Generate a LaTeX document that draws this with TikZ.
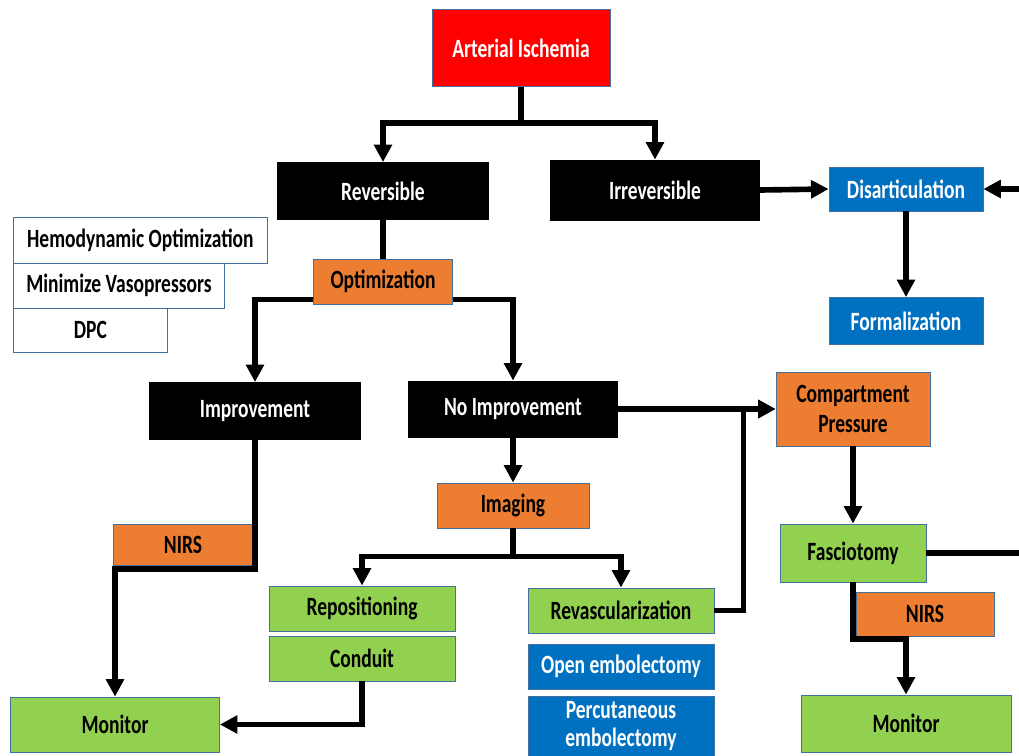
\documentclass[tikz,border=0pt]{standalone}
\usepackage{fontspec}
\setmainfont{Carlito}[FakeStretch=0.74]
\usetikzlibrary{arrows.meta}

\definecolor{ischred}{HTML}{FF0000}
\definecolor{optorange}{HTML}{ED7D31}
\definecolor{treatgreen}{HTML}{92D050}
\definecolor{ampblue}{HTML}{0070C0}
\definecolor{boxedge}{HTML}{41719C}

\begin{document}
\begin{tikzpicture}[x=0.02cm,y=-0.02cm,
  boxbase/.style={draw=boxedge,line width=0.5pt,inner sep=2pt,align=center,
    font=\bfseries\fontsize{15}{17.5}\selectfont},
  redbox/.style={boxbase,fill=ischred,text=white},
  blackbox/.style={boxbase,draw=black,fill=black,text=white},
  orangebox/.style={boxbase,fill=optorange},
  greenbox/.style={boxbase,fill=treatgreen},
  bluebox/.style={boxbase,fill=ampblue,text=white},
  whitebox/.style={boxbase,fill=white},
  arrowline/.style={line width=3.2pt,-{Triangle[width=10pt,length=10pt]}},
  plainline/.style={line width=3.2pt}]
\useasboundingbox (0,0) rectangle (1019,755);
% Top of the tree
\node[redbox,minimum width=3.56cm,minimum height=1.54cm] (art) at (521,48) {Arterial Ischemia};
\node[blackbox,minimum width=4.22cm,minimum height=1.14cm] (rev) at (383,191) {Reversible};
\node[blackbox,minimum width=4.18cm,minimum height=1.2cm] (irr) at (655,190) {Irreversible};
% Amputation side
\node[bluebox,minimum width=3.08cm,minimum height=0.88cm] (dis) at (906,189) {Disarticulation};
\node[bluebox,minimum width=3.08cm,minimum height=0.94cm] (form) at (906,321) {Formalization};
\coordinate (offdis) at (1025,189);
% Optimization measures
\node[whitebox,anchor=west,minimum width=5.08cm,minimum height=0.92cm] (hemo) at (13,240) {Hemodynamic Optimization};
\node[whitebox,anchor=west,minimum width=4.22cm,minimum height=0.9cm] (vaso) at (13,285.5) {Minimize Vasopressors};
\node[whitebox,anchor=west,minimum width=3.08cm,minimum height=0.88cm] (dpc) at (13,330) {DPC};
\node[orangebox,minimum width=2.78cm,minimum height=0.9cm] (opt) at (383,281.5) {Optimization};
% Response
\node[blackbox,minimum width=4.22cm,minimum height=1.14cm] (imp) at (255,411) {Improvement};
\node[blackbox,minimum width=4.18cm,minimum height=1.12cm] (noimp) at (513,409) {No Improvement};
\node[orangebox,minimum width=3.08cm,minimum height=1.48cm] (comp) at (853,409) {Compartment\\Pressure};
\node[orangebox,minimum width=3.04cm,minimum height=0.9cm] (imaging) at (513,505.5) {Imaging};
\node[orangebox,minimum width=2.78cm,minimum height=0.82cm] (nirsl) at (183,545) {NIRS};
% Treatment
\node[greenbox,minimum width=3.72cm,minimum height=0.9cm] (repo) at (362,608.5) {Repositioning};
\node[greenbox,minimum width=3.72cm,minimum height=0.9cm] (cond) at (362,658.5) {Conduit};
\node[greenbox,minimum width=3.72cm,minimum height=0.9cm] (revasc) at (621,610.5) {Revascularization};
\node[bluebox,minimum width=3.72cm,minimum height=0.9cm] (open) at (621,666.5) {Open embolectomy};
\node[bluebox,minimum width=3.72cm,minimum height=1.2cm,font=\bfseries\fontsize{15}{16}\selectfont] (perc) at (621,726) {Percutaneous\\embolectomy};
\node[greenbox,minimum width=2.92cm,minimum height=1.16cm] (fasc) at (853,553) {Fasciotomy};
\node[orangebox,minimum width=2.76cm,minimum height=0.88cm] (nirsr) at (925,614) {NIRS};
\coordinate (offfasc) at (1025,553);
% Monitoring
\node[greenbox,minimum width=4.18cm,minimum height=1.1cm] (monl) at (115,724.5) {Monitor};
\node[greenbox,minimum width=4.2cm,minimum height=1.14cm] (monr) at (906,723.5) {Monitor};
% Connectors
\draw[arrowline] (art.south) -- ++(0,36) -| (rev.north);
\draw[arrowline] (art.south) ++(0,36) -| (irr.north);
\draw[plainline] (rev.south) -- (opt.north);
\draw[arrowline] (opt.south west) ++(0,-5) -| (imp.north);
\draw[arrowline] (opt.south east) ++(0,-5) -| (noimp.north);
\draw[arrowline] (irr.east) -- (dis.west);
\draw[arrowline] (offdis) -- (dis.east);
\draw[arrowline] (dis.south) -- (form.north);
\draw[arrowline] (imp.south) |- ([yshift=-1.6pt]nirsl.south east) -| (monl.north);
\draw[arrowline] (noimp.south) -- (imaging.north);
\draw[arrowline] (noimp.east) -- (comp.west);
\draw[arrowline] (imaging.south) -- ++(0,28) -| (repo.north);
\draw[arrowline] (imaging.south) ++(0,28) -| (revasc.north);
\draw[arrowline] (cond.south) |- (monl.east);
\draw[arrowline] (revasc.east) -- ++(29,0) |- (comp.west);
\draw[arrowline] (comp.south) -- (fasc.north);
\draw[plainline] (fasc.east) -- (offfasc);
\draw[arrowline] (fasc.south) |- ([yshift=-1.6pt]nirsr.south west) -| (monr.north);
\end{tikzpicture}
\end{document}
